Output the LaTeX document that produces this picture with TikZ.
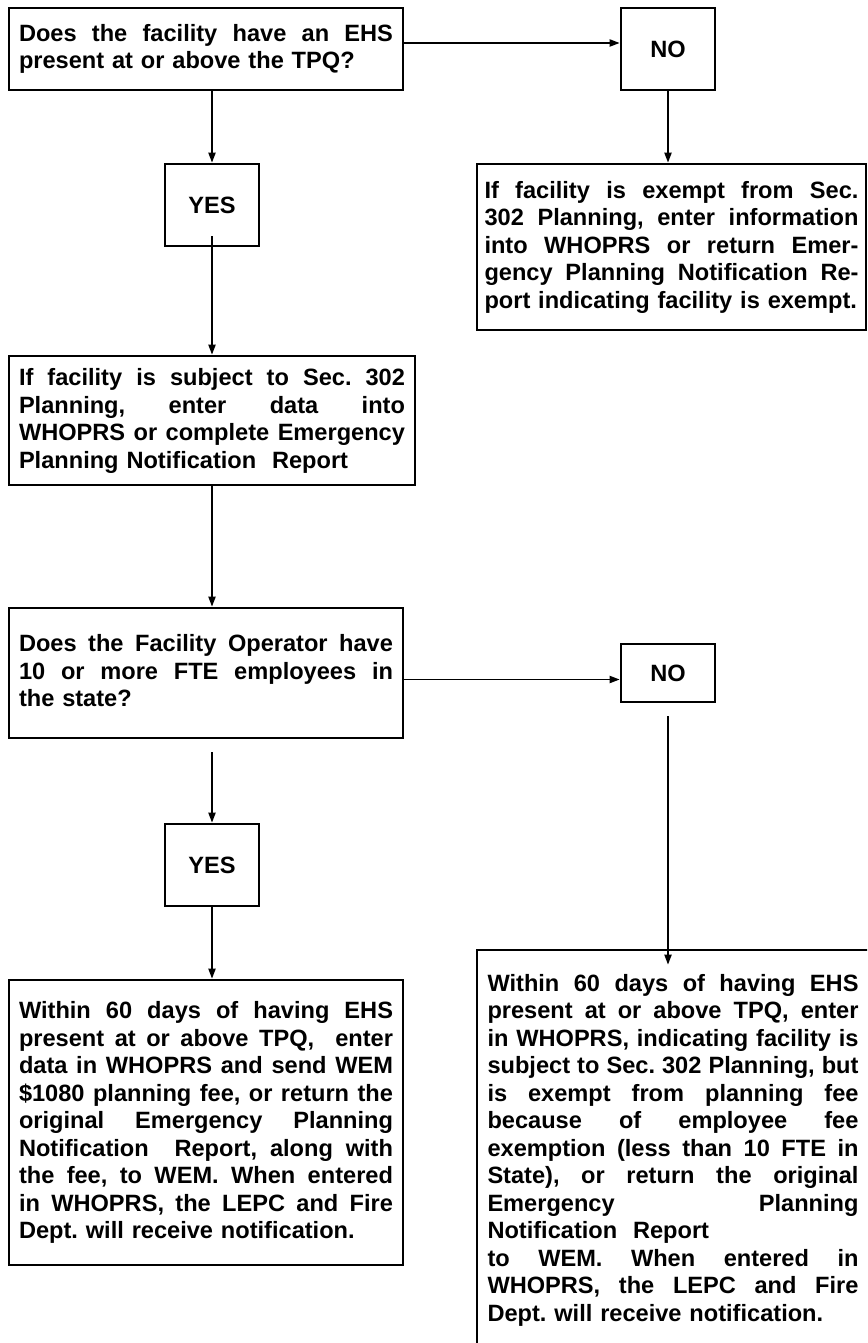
\documentclass[tikz,border=0pt]{standalone}
\usepackage{fontspec}
\setmainfont{Liberation Sans}
\usetikzlibrary{arrows.meta,calc}
\setlength\parindent{0pt}
\setlength\parskip{0pt}
\frenchspacing
\newlength\tw
\newcommand\ls{\rule[-7.5pt]{0pt}{27.5pt}}
\newcommand\jl[1]{\leavevmode\hbox to\tw{\spaceskip=0.278em plus 1fil minus 0.12em\relax\ls #1}}
\newcommand\lastl[1]{\leavevmode\hbox to\tw{\ls #1\hfil}}
\begin{document}
\begin{tikzpicture}[x=1pt,y=-1pt,
  font=\fontsize{23.6pt}{27.5pt}\selectfont\bfseries,
  box/.style={draw, line width=2.6pt, inner sep=0pt, align=left, text width=#1,
              execute at begin node={\global\tw=#1\relax}},
  lab/.style={draw, line width=2.6pt, inner sep=0pt, minimum width=94pt, align=center},
  arr/.style={line width=1.9pt, -{Triangle[length=10pt,width=7pt]}}]

\useasboundingbox (0,0) rectangle (867,1343);
\fill[white] (0,0) rectangle (867,1343);
\clip (0,0) rectangle (867,1343);

% nodes
\node[box=374pt, minimum width=394pt, minimum height=82pt] (q1) at (206,49)
 {\jl{Does the facility have an EHS}\\
  \lastl{present at or above the TPQ?}};

\node[lab, minimum height=82pt] (no1) at (668,49) {NO};

\node[lab, minimum height=82pt] (yes1) at (212,205) {YES};

\node[box=374pt, minimum width=389pt, minimum height=166pt] (ex) at (671.5,247)
 {\jl{If facility is exempt from Sec.}\\
  \jl{302 Planning, enter information}\\
  \jl{into WHOPRS or return Emer-}\\
  \jl{gency Planning Notification Re-}\\
  \lastl{port indicating facility is exempt.}};

\node[box=386pt, minimum width=406pt, minimum height=129pt] (sub) at (212,420.5)
 {\jl{If facility is subject to Sec. 302}\\
  \jl{Planning, enter data into}\\
  \jl{WHOPRS or complete Emergency}\\
  \lastl{Planning Notification\ \ Report}};

\node[box=374pt, minimum width=394pt, minimum height=130pt] (q2) at (206,673)
 {\jl{Does the Facility Operator have}\\
  \jl{10 or more FTE employees in}\\
  \lastl{the state?}};

\node[lab, minimum height=58pt] (no2) at (668,673) {NO};

\node[lab, minimum height=82pt] (yes2) at (212,865) {YES};

\node[box=374pt, minimum width=394pt, minimum height=285pt] (fee) at (206,1122.5)
 {\jl{Within 60 days of having EHS}\\
  \jl{present at or above TPQ,\ \ enter}\\
  \jl{data in WHOPRS and send WEM}\\
  \jl{\$1080 planning fee, or return the}\\
  \jl{original Emergency Planning}\\
  \jl{Notification\ \ Report, along with}\\
  \jl{the fee, to WEM. When entered}\\
  \jl{in WHOPRS, the LEPC and Fire}\\
  \lastl{Dept. will receive notification.}};

\node[box=371pt, minimum width=392pt, minimum height=400pt] (nofee) at (673,1150)
 {\jl{Within 60 days of having EHS}\\
  \jl{present at or above TPQ, enter}\\
  \jl{in WHOPRS, indicating facility is}\\
  \jl{subject to Sec. 302 Planning, but}\\
  \jl{is exempt from planning fee}\\
  \jl{because of employee fee}\\
  \jl{exemption (less than 10 FTE in}\\
  \jl{State), or return the original}\\
  \jl{Emergency Planning}\\
  \lastl{Notification\ \ Report}\\
  \jl{to WEM. When entered in}\\
  \jl{WHOPRS, the LEPC and Fire}\\
  \lastl{Dept. will receive notification.}};

% connectors
\draw[arr] ([yshift=6pt]q1.east) -- ([yshift=6pt]no1.west);
\draw[arr] (q1.south -| yes1.north) -- (yes1.north);
\draw[arr] ($(yes1.south)+(0,-11)$) -- (sub.north);
\draw[arr] (no1.south) -- (no1.south |- ex.north);
\draw[arr] (sub.south) -- (sub.south |- q2.north);
\draw[arr] ([yshift=-6.5pt]q2.east) -- ([yshift=-6.5pt]no2.west);
\draw[arr] ($(q2.south -| yes2.north)+(0,13)$) -- (yes2.north);
\draw[arr] ($(no2.south)+(0,13)$) -- ($(no2.south |- nofee.north)+(0,16)$);
\draw[arr] (yes2.south) -- (yes2.south |- fee.north);
\end{tikzpicture}
\end{document}
